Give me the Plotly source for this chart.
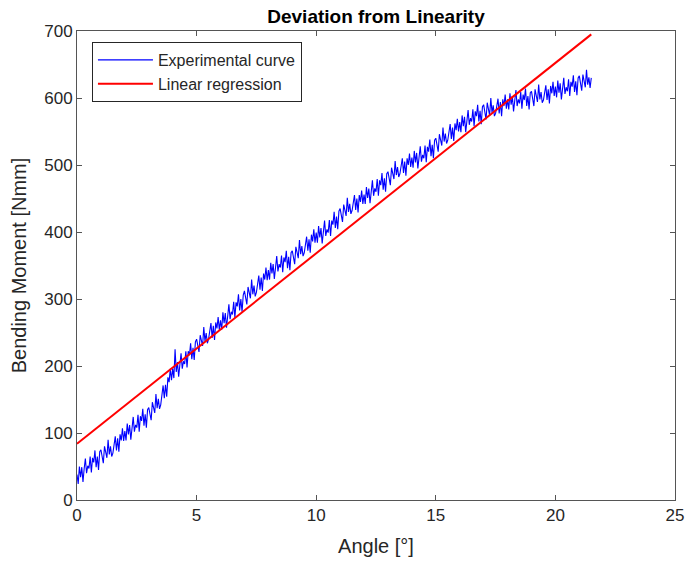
import numpy as np
import plotly.graph_objects as go

# Experimental curve: angle sampled every 0.05 degree, bending moment in Nmm
angle = np.round(np.arange(0, 21.5001, 0.05), 2)
moment = [
    38, 24, 50, 34, 49, 27, 47, 62, 40, 51,
    47, 65, 41, 63, 56, 74, 49, 65, 45, 72,
    75, 63, 55, 80, 72, 63, 90, 68, 80, 65,
    70, 84, 95, 74, 92, 72, 98, 89, 107, 88,
    103, 89, 114, 98, 112, 90, 110, 124, 102, 112,
    108, 127, 102, 125, 118, 136, 111, 128, 108, 135,
    138, 127, 119, 146, 139, 130, 158, 137, 151, 136,
    142, 158, 171, 152, 172, 154, 183, 176, 196, 179,
    196, 182, 225, 191, 206, 184, 204, 219, 196, 207,
    203, 222, 198, 222, 216, 234, 210, 227, 209, 236,
    240, 229, 221, 246, 239, 230, 258, 237, 249, 234,
    240, 253, 264, 242, 260, 239, 265, 256, 273, 254,
    268, 254, 280, 264, 279, 257, 277, 292, 270, 281,
    277, 296, 272, 295, 289, 307, 283, 300, 281, 306,
    312, 301, 292, 318, 310, 301, 329, 307, 320, 304,
    310, 324, 335, 314, 332, 312, 338, 329, 347, 328,
    343, 329, 354, 338, 352, 330, 349, 364, 341, 352,
    347, 365, 340, 362, 355, 372, 346, 363, 343, 369,
    372, 361, 352, 378, 370, 361, 388, 367, 379, 364,
    369, 383, 393, 372, 389, 369, 396, 386, 404, 384,
    399, 384, 409, 392, 406, 383, 403, 417, 394, 404,
    399, 418, 394, 417, 411, 430, 406, 423, 404, 431,
    435, 424, 415, 441, 433, 424, 451, 430, 442, 427,
    432, 445, 455, 433, 450, 429, 455, 445, 462, 442,
    456, 442, 467, 451, 465, 443, 462, 477, 454, 465,
    460, 479, 454, 477, 470, 488, 463, 480, 460, 487,
    490, 479, 470, 496, 488, 479, 506, 485, 497, 482,
    487, 500, 510, 488, 505, 484, 510, 500, 517, 497,
    511, 496, 521, 504, 518, 495, 514, 528, 505, 515,
    510, 529, 504, 527, 520, 538, 513, 530, 510, 537,
    540, 529, 520, 546, 538, 529, 556, 535, 547, 532,
    537, 550, 561, 539, 556, 536, 562, 552, 569, 550,
    564, 549, 574, 558, 572, 549, 568, 582, 560, 570,
    565, 583, 558, 580, 573, 590, 565, 581, 561, 587,
    590, 578, 568, 593, 584, 574, 600, 578, 589, 573,
    577, 590, 599, 577, 594, 573, 598, 588, 605, 584,
    598, 583, 607, 590, 603, 580, 598, 612, 588, 598,
    592, 609, 584, 605, 597, 614, 588, 603, 583, 608,
    610, 598, 588, 613, 604, 594, 620, 598, 609, 593,
    597, 610, 619, 597, 613, 592, 618, 607, 624, 603,
    617, 601, 626, 608, 622, 598, 616, 630, 606, 616,
    610, 628, 603, 624, 617, 634, 609, 625, 604, 630,
    633, 620, 611, 635, 627, 616, 642, 620, 631, 615,
    630,
]

# Linear regression line end points
reg_angle = [0, 21.5]
reg_moment = [84, 695]

x_ticks = [0, 5, 10, 15, 20, 25]
y_ticks = [0, 100, 200, 300, 400, 500, 600, 700]

FONT = "Liberation Sans, Arial, Helvetica, sans-serif"
AX = "#262626"

W, H = 686, 561

fig = go.Figure()
fig.add_trace(go.Scatter(x=angle, y=moment, mode="lines", name="Experimental curve",
                         line=dict(color="#0000ff", width=1.1)))
fig.add_trace(go.Scatter(x=reg_angle, y=reg_moment, mode="lines", name="Linear regression",
                         line=dict(color="#ff0000", width=2)))

axis_common = dict(showgrid=False, zeroline=False, showline=True, linecolor="#555555",
                   linewidth=1, mirror="allticks", ticks="inside", ticklen=5,
                   tickcolor="#555555", automargin=False,
                   tickfont=dict(family=FONT, size=17, color=AX))

fig.update_layout(
    width=W, height=H,
    margin=dict(l=77, r=11, t=31, b=61),
    paper_bgcolor="white", plot_bgcolor="white",
    font=dict(family=FONT, color=AX),
    title=dict(text="<b>Deviation from Linearity</b>", x=(77 + 675) / 2 / W, xanchor="center",
               y=1 - 16 / H, yanchor="middle", automargin=False,
               font=dict(family=FONT, size=19, color="black")),
    xaxis=dict(range=[0, 25], tickvals=x_ticks,
               title=dict(text="Angle [°]", font=dict(family=FONT, size=20, color=AX), standoff=14),
               **axis_common),
    yaxis=dict(range=[0, 700], tickvals=y_ticks,
               title=dict(text="Bending Moment [Nmm]", font=dict(family=FONT, size=20, color=AX), standoff=12),
               **axis_common),
    legend=dict(x=0.025, y=0.9765, xanchor="left", yanchor="top",
                bgcolor="white", bordercolor=AX, borderwidth=1, itemwidth=55,
                font=dict(family=FONT, size=16, color=AX), tracegroupgap=0),
    showlegend=True,
)

# remove the default 8px page margin so the figure fills the window exactly
fig.write_html("out.html", config={"displayModeBar": False},
               post_script="document.body.style.margin='0';document.body.style.overflow='hidden';")
